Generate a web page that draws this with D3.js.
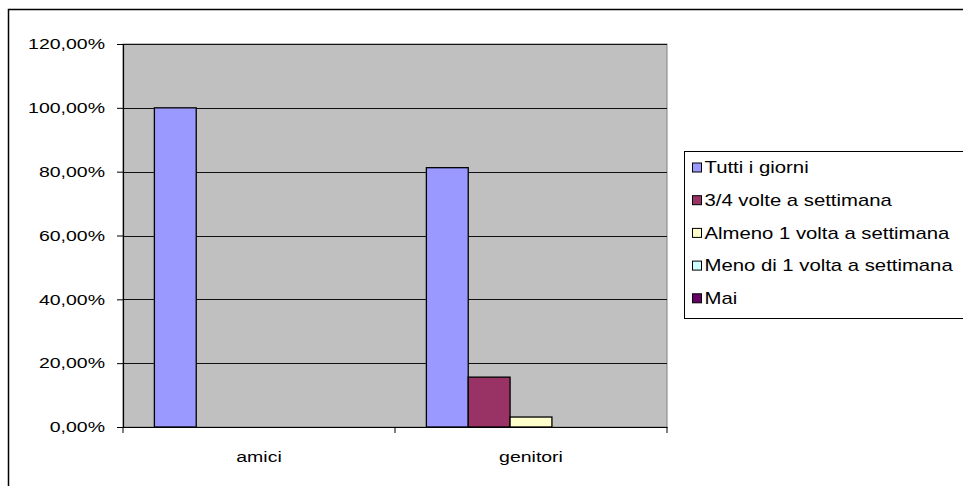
<!DOCTYPE html>
<html>
<head>
<meta charset="utf-8">
<script src="https://cdn.jsdelivr.net/npm/d3@7"></script>
<style>
  body { margin: 0; background: #fff; }
  svg { display: block; font-family: "Liberation Sans", Arial, sans-serif; }
</style>
</head>
<body>
<svg width="963" height="486"></svg>
<script>
// data
const categories = ["amici", "genitori"];
const series = ["Tutti i giorni", "3/4 volte a settimana", "Almeno 1 volta a settimana", "Meno di 1 volta a settimana", "Mai"];
const colors = ["#9999FF", "#993366", "#FFFFCC", "#CCFFFF", "#660066"];
const values = [
  [1.0, 0, 0, 0, 0],                 // amici
  [0.8125, 0.15625, 0.03125, 0, 0]   // genitori
];
const yTicks = [0, 0.2, 0.4, 0.6, 0.8, 1.0, 1.2];

const svg = d3.select("svg");
const plot = {left: 123, right: 667, top: 44, bottom: 427};
const stretch = 1.3; // the source picture's text is wider than it is tall

// move the x attr into a transform so the glyphs can be widened in place
function widen(sel, k) {
  sel.each(function() {
    const t = d3.select(this);
    const tx = +t.attr("x") || 0;
    t.attr("x", 0).attr("transform", `translate(${tx},0) scale(${k},1)`);
  });
}

// outer chart frame (runs off the right and bottom edges)
svg.append("rect")
    .attr("x", 8.5).attr("y", 9.5)
    .attr("width", 1000).attr("height", 1000)
    .attr("fill", "none").attr("stroke", "#000").attr("stroke-width", 1.5);

const x = d3.scaleBand(categories, [plot.left, plot.right]);
const y = d3.scaleLinear([0, 1.2], [plot.bottom, plot.top]);
// gap width 150%: group = 5 bars, gap = 1.5 bars
const barW = x.bandwidth() / (series.length + 1.5);
const gap = barW * 0.75;

svg.append("rect")
    .attr("x", plot.left).attr("y", plot.top)
    .attr("width", plot.right - plot.left).attr("height", plot.bottom - plot.top)
    .attr("fill", "#C0C0C0").attr("stroke", "#808080");

// gridlines
svg.append("g")
  .selectAll("line")
  .data(yTicks.filter(d => d > 0))
  .join("line")
    .attr("x1", plot.left).attr("x2", plot.right)
    .attr("y1", d => Math.round(y(d)) + 0.5).attr("y2", d => Math.round(y(d)) + 0.5)
    .attr("stroke", "#111").attr("stroke-width", 1);

// bars
svg.append("g")
  .selectAll("g")
  .data(values)
  .join("g")
    .attr("transform", (d, i) => `translate(${x(categories[i]) + gap},0)`)
  .selectAll("rect")
  .data(d => d.map((v, j) => ({v, j})).filter(e => e.v > 0))
  .join("rect")
    .attr("x", e => e.j * barW)
    .attr("y", e => y(e.v))
    .attr("width", barW)
    .attr("height", e => y(0) - y(e.v))
    .attr("fill", e => colors[e.j])
    .attr("stroke", "#000").attr("stroke-width", 1.3);

// y axis
svg.append("g")
    .attr("transform", `translate(${plot.left},0)`)
    .call(d3.axisLeft(y).tickValues(yTicks).tickSize(6).tickPadding(12)
      .tickFormat(d => (d * 100).toFixed(2).replace(".", ",") + "%"))
    .call(g => g.select(".domain").attr("stroke", "#000").attr("stroke-width", 1.2))
    .call(g => g.selectAll(".tick text").attr("font-size", 15).attr("fill", "#000")
      .attr("font-family", "Liberation Sans, Arial, sans-serif").call(widen, stretch));

// x axis
svg.append("g")
    .attr("transform", `translate(0,${plot.bottom})`)
    .call(d3.axisBottom(x).tickSize(0).tickPadding(24))
    .call(g => g.select(".domain").attr("stroke", "#000").attr("stroke-width", 1.2))
    .call(g => g.selectAll(".tick text").attr("font-size", 15).attr("fill", "#000")
      .attr("font-family", "Liberation Sans, Arial, sans-serif").call(widen, stretch));

// category separator ticks
svg.append("g")
  .selectAll("line")
  .data(categories.map(c => x(c)).concat([plot.right]))
  .join("line")
    .attr("x1", d => d).attr("x2", d => d)
    .attr("y1", plot.bottom).attr("y2", plot.bottom + 6)
    .attr("stroke", "#000");

// legend
const legend = svg.append("g").attr("transform", "translate(684.5,151.5)");
legend.append("rect")
    .attr("width", 400).attr("height", 167)
    .attr("fill", "#fff").attr("stroke", "#000");
const item = legend.selectAll("g.item")
  .data(series)
  .join("g")
    .attr("class", "item")
    .attr("transform", (d, i) => `translate(8,${16 + i * 32.7})`);
item.append("rect")
    .attr("y", -4.5).attr("width", 9).attr("height", 9)
    .attr("fill", (d, i) => colors[i]).attr("stroke", "#000");
item.append("text")
    .attr("x", 12).attr("dy", "0.35em")
    .attr("font-size", 16)
    .text(d => d)
    .call(widen, 1.27);
</script>
</body>
</html>
